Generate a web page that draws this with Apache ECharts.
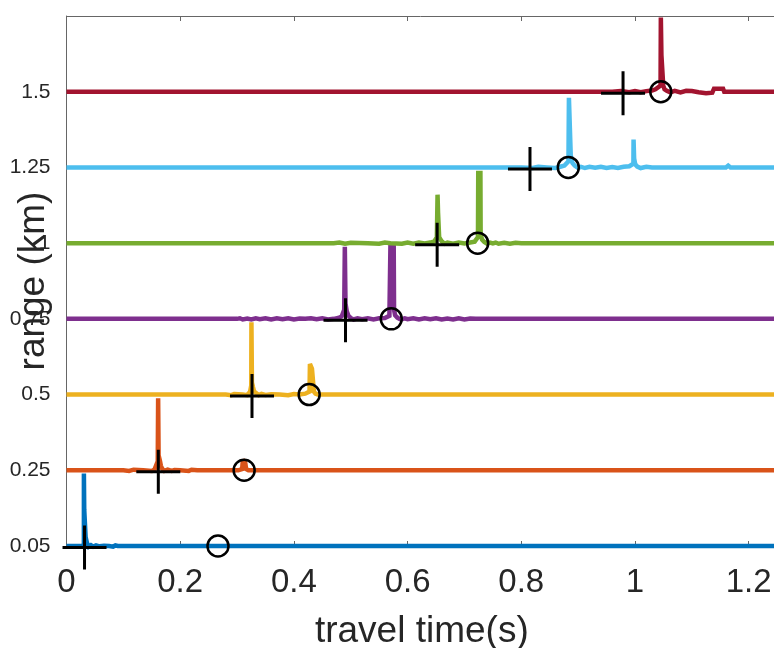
<!DOCTYPE html>
<html><head><meta charset="utf-8">
<script src="https://cdn.jsdelivr.net/npm/echarts@6/dist/echarts.min.js"></script>
<style>html,body{margin:0;padding:0;background:#fff}#c{width:774px;height:648px}</style>
</head><body><div id="c"></div>
<script>
// trace offsets on the y axis and their range labels (km)
const rangeLevels = [0, 0.25, 0.5, 0.75, 1, 1.25, 1.5];
const rangeLabels = ['0.05', '0.25', '0.5', '0.75', '1', '1.25', '1.5'];
const traceColors = ['#0072BD', '#D95319', '#EDB120', '#7E2F8E', '#77AC30', '#4DBEEE', '#A2142F'];

// traces: [travel time (s), amplitude]
const trace005 = [[0,0],[0.024,0],[0.027,0.002],[0.029,-0.002],[0.0306,0.01],[0.0306,0.239],[0.0312,0.239],[0.0312,0.12],[0.0334,0.12],[0.0336,0.03],[0.036,0.01],[0.039,-0.002],[0.043,0.003],[0.047,-0.002],[0.052,0.002],[0.058,-0.001],[0.066,0.001],[0.075,0],[0.082,-0.002],[0.086,0.002],[0.09,0],[1.25,0]];
const trace025 = [[0,0],[0.100,0],[0.110,-0.002],[0.118,0.002],[0.135,0],[0.150,-0.002],[0.155,0.003],[0.158,0.008],[0.1605,0.03],[0.1612,0.238],[0.1618,0.238],[0.1620,0.05],[0.1645,0.03],[0.166,0.015],[0.168,0.006],[0.172,-0.002],[0.178,0.002],[0.185,-0.002],[0.19,0.001],[0.2,0],[0.215,-0.002],[0.22,0.002],[0.23,0],[0.302,0],[0.309,0.004],[0.3103,0.036],[0.312,0.036],[0.3125,0.025],[0.3135,0.036],[0.3157,0.036],[0.316,0.004],[0.32,0],[1.25,0]];
const trace05 = [[0,0],[0.28,0],[0.29,-0.002],[0.295,0.002],[0.31,0],[0.318,-0.002],[0.321,0.003],[0.323,0.01],[0.325,0.03],[0.3253,0.239],[0.3259,0.239],[0.3262,0.04],[0.328,0.025],[0.330,0.01],[0.334,0.004],[0.338,-0.002],[0.343,0.002],[0.35,-0.001],[0.36,0.001],[0.375,0],[0.39,-0.002],[0.40,0.002],[0.41,0],[0.42,0.003],[0.4275,0.01],[0.4282,0.101],[0.4315,0.101],[0.4318,0.085],[0.4349,0.085],[0.4352,0.01],[0.438,0.003],[0.442,0],[1.25,0]];
const trace075 = [[0,0],[0.30,0],[0.305,0.002],[0.31,-0.002],[0.318,0.001],[0.325,-0.002],[0.333,0.002],[0.34,-0.001],[0.35,0.002],[0.36,-0.002],[0.37,0.002],[0.38,-0.001],[0.39,0.002],[0.40,-0.002],[0.41,0.001],[0.42,0],[0.43,0.002],[0.44,-0.001],[0.45,0.002],[0.46,-0.002],[0.47,0],[0.478,0.003],[0.484,0.008],[0.4885,0.03],[0.4896,0.238],[0.4904,0.238],[0.4908,0.05],[0.493,0.025],[0.496,0.01],[0.50,0.003],[0.505,-0.002],[0.512,0.002],[0.52,-0.001],[0.53,0.002],[0.54,-0.002],[0.55,0.002],[0.56,0.003],[0.568,0.01],[0.5698,0.238],[0.5756,0.238],[0.5762,0.03],[0.578,0.012],[0.582,0.004],[0.588,-0.002],[0.595,0.002],[0.60,-0.001],[0.61,0.002],[0.62,-0.002],[0.63,0.002],[0.64,-0.001],[0.65,0.002],[0.66,-0.002],[0.67,0.001],[0.68,-0.002],[0.69,0.002],[0.70,-0.002],[0.71,0.001],[0.72,0],[1.25,0]];
const trace1 = [[0,0],[0.47,0],[0.48,0.002],[0.49,-0.002],[0.50,0.001],[0.53,0],[0.55,-0.002],[0.56,0.002],[0.57,0],[0.59,-0.002],[0.60,0.002],[0.61,-0.002],[0.62,0.002],[0.63,-0.001],[0.64,0.002],[0.647,0.006],[0.6515,0.02],[0.6527,0.160],[0.6534,0.160],[0.6536,0.10],[0.6552,0.10],[0.6555,0.02],[0.66,0.006],[0.665,-0.002],[0.67,0.002],[0.68,-0.002],[0.69,0.002],[0.70,-0.001],[0.71,0.002],[0.718,0.005],[0.7238,0.02],[0.7243,0.232],[0.7281,0.232],[0.7285,0.03],[0.731,0.012],[0.735,0.004],[0.74,-0.002],[0.745,0.002],[0.75,-0.001],[0.755,0.002],[0.76,-0.002],[0.77,0.001],[0.78,-0.002],[0.79,0.001],[0.80,0],[1.25,0]];
const trace125 = [[0,0],[0.80,0],[0.82,-0.002],[0.83,0.002],[0.845,0],[0.86,-0.002],[0.87,0.003],[0.876,0.006],[0.883,0.02],[0.8838,0.230],[0.8865,0.230],[0.887,0.04],[0.89,0.015],[0.894,0.006],[0.90,-0.002],[0.905,0.002],[0.912,-0.002],[0.92,0.002],[0.93,-0.001],[0.94,0.002],[0.95,-0.002],[0.96,0.001],[0.97,-0.002],[0.98,0.002],[0.99,0.004],[0.9972,0.012],[0.9975,0.092],[0.9982,0.092],[0.9985,0.03],[1.0005,0.01],[1.004,0.003],[1.01,-0.002],[1.02,0.002],[1.03,0],[1.16,0],[1.162,0.003],[1.164,0.006],[1.166,0.003],[1.168,0],[1.25,0]];
const trace15 = [[0,0],[0.96,0],[0.975,0.002],[0.99,-0.002],[1.0,0.002],[1.01,-0.002],[1.02,0.002],[1.03,0.004],[1.036,0.008],[1.045,0.02],[1.0455,0.245],[1.0462,0.245],[1.0465,0.121],[1.0493,0.121],[1.0497,0.02],[1.052,0.008],[1.056,0.003],[1.062,-0.002],[1.07,0.003],[1.08,-0.002],[1.09,0.003],[1.10,0.002],[1.112,-0.002],[1.125,-0.005],[1.136,-0.003],[1.139,0.01],[1.155,0.01],[1.157,0],[1.25,0]];
const traces = [trace005, trace025, trace05, trace075, trace1, trace125, trace15];

// picks: '+' and 'o' travel times (s), one per range
const plusTimes = [0.0317, 0.1615, 0.3263, 0.4908, 0.652, 0.8153, 0.979];
const circleTimes = [0.2665, 0.3125, 0.4269, 0.5713, 0.7233, 0.8827, 1.0454];

const FONT = 'Liberation Sans, Arial, sans-serif';
const TXT = '#262626';
const AX = '#666';

const series = traces.map((tr, i) => ({
  type: 'line',
  data: tr.map(p => [p[0], rangeLevels[i] + p[1]]),
  showSymbol: false,
  symbol: 'none',
  clip: false,
  lineStyle: { color: traceColors[i], width: 4.5, join: 'miter', miterLimit: 2 },
  z: 2 + i,
  animation: false,
  silent: true
}));
series.push({
  type: 'scatter',
  data: plusTimes.map((t, i) => [t, rangeLevels[i]]),
  symbol: 'path://M1,0L1,2M0,1L2,1',
  symbolSize: 44,
  symbolOffset: [0, 1.5],
  itemStyle: { color: 'transparent', borderColor: '#000', borderWidth: 3, opacity: 1 },
  z: 20, animation: false, silent: true
});
series.push({
  type: 'scatter',
  data: circleTimes.map((t, i) => [t, rangeLevels[i]]),
  symbol: 'circle',
  symbolSize: 21,
  itemStyle: { color: 'transparent', borderColor: '#000', borderWidth: 2.5, opacity: 1 },
  z: 21, animation: false, silent: true
});

const chart = echarts.init(document.getElementById('c'), null, { renderer: 'canvas' });
chart.setOption({
  animation: false,
  backgroundColor: '#fff',
  grid: { left: 66.5, top: 16, width: 710.6, height: 530, containLabel: false, outerBoundsMode: 'none' },
  xAxis: [{
    type: 'value', min: 0, max: 1.25, interval: 0.2, position: 'bottom',
    axisLine: { show: true, onZero: false, lineStyle: { color: AX, width: 1 } },
    axisTick: { show: true, inside: true, length: 5, lineStyle: { color: AX } },
    axisLabel: { fontSize: 33, color: TXT, margin: 20, fontFamily: FONT, showMaxLabel: false },
    splitLine: { show: false },
    name: 'travel time(s)', nameLocation: 'middle', nameGap: 67, nameMoveOverlap: false,
    nameTextStyle: { fontSize: 37, color: TXT, fontFamily: FONT }
  }, {
    type: 'value', min: 0, max: 1.25, interval: 0.2, position: 'top',
    axisLine: { show: true, onZero: false, lineStyle: { color: AX, width: 1 } },
    axisTick: { show: true, inside: true, length: 5, lineStyle: { color: AX } },
    axisLabel: { show: false },
    splitLine: { show: false }
  }],
  yAxis: {
    type: 'value', min: 0, max: 1.75, interval: 0.25,
    axisLine: { show: true, onZero: false, lineStyle: { color: AX, width: 1 } },
    axisTick: { show: true, inside: true, length: 5, lineStyle: { color: AX } },
    axisLabel: {
      fontSize: 21, color: TXT, margin: 16, fontFamily: FONT,
      formatter: v => {
        const i = rangeLevels.findIndex(l => Math.abs(l - v) < 1e-6);
        return i >= 0 ? rangeLabels[i] : '';
      }
    },
    splitLine: { show: false },
    name: 'range (km)', nameLocation: 'middle', nameGap: 14, nameMoveOverlap: false,
    nameTextStyle: { fontSize: 37, color: TXT, fontFamily: FONT }
  },
  series
});
</script>
</body></html>
